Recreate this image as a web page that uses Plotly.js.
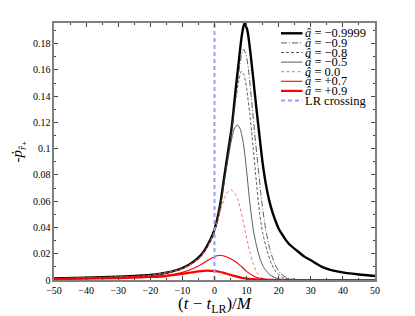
<!DOCTYPE html>
<html>
<head>
<meta charset="utf-8">
<script src="https://cdn.plot.ly/plotly-3.0.1.min.js"></script>
<style>html,body{margin:0;padding:0;background:#fff;}#chart{width:415px;height:316px;}</style>
</head>
<body>
<div id="chart"></div>
<script>
// ---- data ----
const spinLabels = ["−0.9999", "−0.9", "−0.8", "−0.5", "0.0", "+0.7", "+0.9"];
const lrLabel = "LR crossing";
const lrCrossing = 0;

const x_m09999 = [-50,-40,-30,-20,-15,-10,-6.5,-4,-2.4,-0.5,1,2,3,4.2,5.4,6.5,7.5,8.5,9.3,10.2,11,12,13,14,15,16,17,18,19,20,21.4,23,25.6,28,30,34,39,45,50];
const y_m09999 = [0.0012,0.0017,0.0025,0.0038,0.0055,0.0090,0.0140,0.0195,0.0254,0.0350,0.048,0.061,0.078,0.0975,0.117,0.143,0.165,0.186,0.1954,0.1905,0.177,0.155,0.132,0.110,0.089,0.073,0.061,0.052,0.045,0.039,0.0335,0.028,0.0225,0.0178,0.0150,0.0095,0.0062,0.0042,0.0031];

const x_m09 = [-50,-30,-20,-10,-5,-2.4,-0.5,1,2,3,4.2,5.4,6.5,7.5,8.3,9.0,9.8,10.6,11.5,12.5,13.5,14.7,16,17.3,18.8,20.4,22.5,25,30,50];
const y_m09 = [0.0011,0.0024,0.0037,0.0088,0.0165,0.025,0.0345,0.047,0.060,0.077,0.096,0.116,0.138,0.157,0.170,0.1756,0.172,0.160,0.138,0.112,0.088,0.060,0.038,0.023,0.012,0.0055,0.0018,0.0004,0.00005,0];

const x_m08 = [-50,-30,-20,-10,-5,-2.4,-0.5,1,2,3,4.2,5.4,6.5,7.5,8.4,9.2,10,11,12,13,14,15,16.3,17.8,19.4,21.5,24,30,50];
const y_m08 = [0.0011,0.0024,0.0037,0.0087,0.0163,0.0248,0.034,0.046,0.059,0.076,0.095,0.114,0.135,0.151,0.159,0.156,0.146,0.126,0.102,0.076,0.052,0.036,0.023,0.012,0.0055,0.0018,0.0004,0,0];

const x_m05 = [-50,-30,-20,-10,-5,-2.4,-0.5,1,2,3,4.2,5.4,6.3,7.2,8,9,10,11,12.1,13,14.2,15.5,17.3,20,24,50];
const y_m05 = [0.0011,0.0024,0.0036,0.0086,0.016,0.0245,0.0335,0.045,0.058,0.074,0.092,0.108,0.116,0.118,0.115,0.104,0.083,0.059,0.038,0.027,0.016,0.009,0.0039,0.0008,0.0001,0];

const x_00 = [-50,-30,-20,-10,-5,-2.4,-0.5,0.7,2,3.3,4.3,5.2,6.3,7.3,8.3,9.5,10.3,11.1,12,13.1,14.5,16,20,50];
const y_00 = [0.0010,0.0023,0.0035,0.0085,0.016,0.024,0.034,0.043,0.054,0.0635,0.0675,0.0687,0.066,0.061,0.052,0.038,0.029,0.0206,0.013,0.006,0.002,0.0005,0,0];

const x_p07 = [-50,-40,-30,-20,-15,-10,-6.6,-4,-2.4,-0.5,0.8,1.7,3,4.5,5.9,7.9,10,12,14,17,22,50];
const y_p07 = [0.0008,0.0012,0.0018,0.0027,0.0036,0.0058,0.0088,0.0120,0.0145,0.0172,0.0185,0.0189,0.0183,0.0168,0.0150,0.0113,0.0066,0.0032,0.0013,0.0003,0,0];

const x_p09 = [-50,-40,-30,-20,-15,-10,-7,-5,-2.4,0,1.5,2.7,5,7.9,10,13,17,25,50];
const y_p09 = [0.0007,0.0010,0.0015,0.0023,0.0030,0.0047,0.0058,0.0065,0.0071,0.0068,0.0063,0.0056,0.0039,0.0020,0.0011,0.0004,0.0001,0,0];

const xTicks = [-50,-40,-30,-20,-10,0,10,20,30,40,50];
const yTicks = [0,0.02,0.04,0.06,0.08,0.1,0.12,0.14,0.16,0.18];
const yTop = 0.1957;

// ---- styles ----
const seriesX = [x_m09999, x_m09, x_m08, x_m05, x_00, x_p07, x_p09];
const seriesY = [y_m09999, y_m09, y_m08, y_m05, y_00, y_p07, y_p09];
const styles = [
  {color:'#000000', width:2.4, dash:'solid'},
  {color:'#333333', width:0.8, dash:'6px,2px,1px,2px'},
  {color:'#333333', width:0.8, dash:'3px,2px'},
  {color:'#333333', width:0.8, dash:'solid'},
  {color:'#ff6a6a', width:1.0, dash:'3px,2.5px'},
  {color:'#ff0000', width:1.1, dash:'solid'},
  {color:'#ff0000', width:2.2, dash:'solid'}
];
const lrStyle = {color:'#9a9aff', width:2, dash:'4px,3px'};

const traces = seriesX.map((xs, i) => ({
  x: xs, y: seriesY[i], type:'scatter', mode:'lines',
  line: Object.assign({shape:'spline', smoothing:0.7}, styles[i]),
  showlegend:false, hoverinfo:'skip'
}));
traces.push({x:[lrCrossing, lrCrossing], y:[0, yTop], type:'scatter', mode:'lines',
  line: lrStyle, showlegend:false, hoverinfo:'skip'});

// ---- custom legend (compact, like the reference) ----
const L = 54, R = 40, T = 23, B = 36, W = 415, H = 316;
const pw = W - L - R, ph = H - T - B;
const px2x = px => (px - L) / pw;
const py2y = py => (H - B - py) / ph;
const legendNames = spinLabels.map(s => '<i>â</i> = ' + s).concat([lrLabel]);
const legendStyles = styles.concat([lrStyle]);
const shapes = [], annotations = [];
const serif = 'Liberation Serif, DejaVu Serif, serif';
legendNames.forEach((name, i) => {
  const py = 33.3 + 9.6 * i;
  const st = legendStyles[i];
  shapes.push({type:'line', xref:'paper', yref:'paper', x0:px2x(281), x1:px2x(302.5), y0:py2y(py), y1:py2y(py),
    line:{color:st.color, width:st.width, dash:st.dash}});
  annotations.push({xref:'paper', yref:'paper', x:px2x(304), y:py2y(py), xanchor:'left', yanchor:'middle',
    text:name, showarrow:false, borderpad:0, font:{family:serif, size:12.5, color:'#000'}});
});

const axisCommon = {
  ticks:'inside', ticklen:4, tickwidth:1, tickcolor:'#444',
  showline:true, linecolor:'#808080', linewidth:1.6, mirror:'allticks',
  showgrid:false, zeroline:false,
  tickfont:{family:serif, size:10, color:'#000'}
};

const layout = {
  width:W, height:H,
  margin:{l:L, r:R, t:T, b:B, pad:0},
  paper_bgcolor:'#fff', plot_bgcolor:'#fff',
  showlegend:false,
  xaxis: Object.assign({}, axisCommon, {
    range:[-50,50], tickmode:'array', tickvals:xTicks,
    minor:{ticks:'inside', ticklen:2, dtick:5, tick0:0, tickcolor:'#444'},
    title:{text:'(<i>t</i> − <i>t</i><sub>LR</sub>)/<i>M</i>', font:{family:serif, size:17, color:'#000'}, standoff:3}
  }),
  yaxis: Object.assign({}, axisCommon, {
    range:[0, yTop], tickmode:'array', tickvals:yTicks,
    minor:{ticks:'inside', ticklen:2, dtick:0.01, tick0:0, tickcolor:'#444'},
    title:{text:'-<i>ṗ</i><sub><i>r̂</i>₊</sub>', font:{family:serif, size:15, color:'#000'}, standoff:6}
  }),
  shapes: shapes,
  annotations: annotations
};

Plotly.newPlot('chart', traces, layout, {displayModeBar:false, staticPlot:true});
</script>
</body>
</html>
